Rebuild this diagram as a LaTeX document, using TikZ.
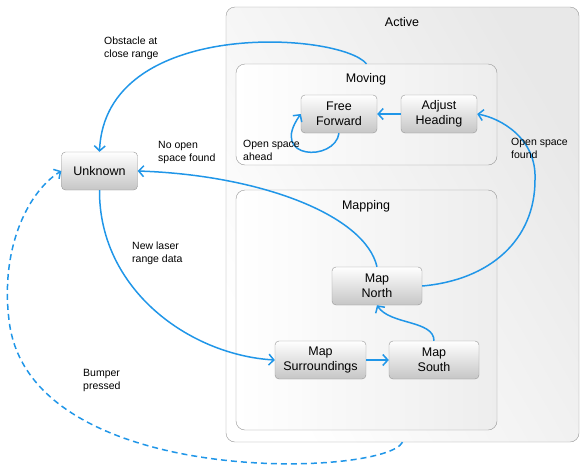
\documentclass[tikz,border=0pt]{standalone}
\usepackage{fontspec}
\setmainfont{Liberation Sans}
\usepackage{tikz}
\usetikzlibrary{positioning,arrows.meta}
\definecolor{flow}{RGB}{32,150,232}
\definecolor{rim}{RGB}{150,150,150}
\tikzset{%
  every state/.style={
    draw=rim,
    rounded corners=4pt,
    top color=white,
    bottom color=gray!45,
    inner sep=0pt,
    minimum height=38pt,
    align=center,
    font=\fontsize{12.5}{15}\selectfont
  },
  group/.style={
    draw=rim,
    rounded corners=9pt,
    left color=white,
    right color=gray!18,
    shading angle=120,
    inner sep=0pt
  },
  title/.style={
    font=\fontsize{12.5}{15}\selectfont
  },
  tag/.style={
    anchor=west,
    inner sep=0pt,
    align=left,
    font=\fontsize{10.5}{13}\selectfont
  },
}

\begin{document}
\begin{tikzpicture}[x=1pt,y=-1pt]
        \useasboundingbox (0,0) rectangle (587,472);
        \tikzstyle{move}=[draw=flow,line width=1.5pt,->,>={Straight Barb[length=5pt,width=11pt]}]
        % containers
        \node[group,minimum width=353pt,minimum height=435pt](active) at (402.5,224.5){};
        \node[title](activet) at (402,22){Active};
        \node[group,left color=white,right color=gray!14,minimum width=261pt,minimum height=101pt](moving) at (366.5,114.5){};
        \node[title](movingt) at (366,79){Moving};
        \node[group,left color=white,right color=gray!14,minimum width=261pt,minimum height=240pt](mapping) at (366.5,310){};
        \node[title](mappingt) at (366,206){Mapping};
        % states
        \node[every state,minimum width=76pt](unknown) at (99.5,171){Unknown};
        \node[every state,minimum width=76pt](free) at (339,114){Free\\Forward};
        \node[every state,minimum width=76pt](adjust) at (439,114){Adjust\\Heading};
        \node[every state,minimum width=90pt](north) at (377,286){Map\\North};
        \node[every state,minimum width=91pt](surr) at (320.5,360){Map\\Surroundings};
        \node[every state,minimum width=90pt](south) at (434,360){Map\\South};
        % transitions
        \draw[move] (moving.north) .. controls (340,32) and (105,17) .. (unknown.north);
        \draw[move] (north.north) .. controls (365,215) and (260,175) .. (unknown.east);
        \draw[move] (unknown.south) .. controls (99,290) and (190,355) .. (surr.west);
        \draw[move,dash pattern=on 6pt off 4pt] (active.south) .. controls (385,477) and (28,490) .. (9,320) .. controls (0,245) and (30,190) .. (unknown.west);
        \draw[move] (north.east) .. controls (490,280) and (535,240) .. (535,180) .. controls (537,138) and (500,118) .. (adjust.east);
        \draw[move] (adjust.west) -- (free.east);
        \draw[move] (free.south) .. controls (335,162) and (268,160) .. (free.west);
        \draw[move] (surr.east) -- (south.west);
        \draw[move] (south.north) .. controls (434,320) and (390,325) .. (north.south);
        % labels
        \node[tag](obst) at (104,48.5){Obstacle at\\close range};
        \node[tag](noopen) at (158,152.5){No open\\space found};
        \node[tag](ahead) at (243,150.5){Open space\\ahead};
        \node[tag](found) at (511,148.5){Open space\\found};
        \node[tag](laser) at (132,253.5){New laser\\range data};
        \node[tag](bump) at (83,380.5){Bumper\\pressed};
\end{tikzpicture}
\end{document}
